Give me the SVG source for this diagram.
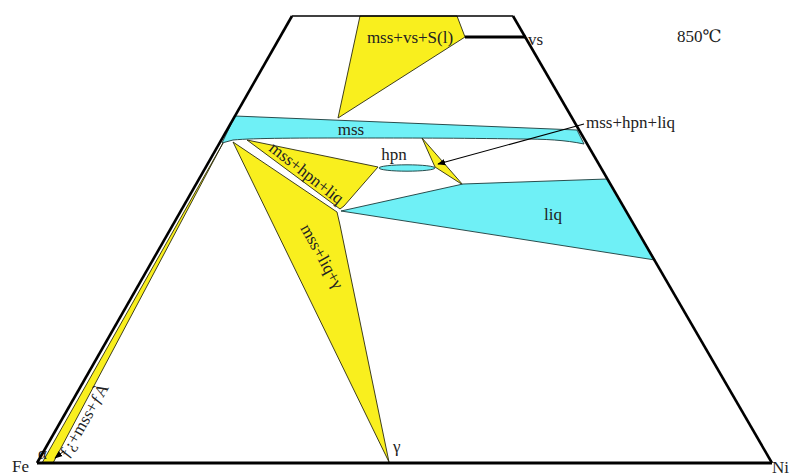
<svg xmlns="http://www.w3.org/2000/svg" width="796" height="476" viewBox="0 0 796 476">
<defs>
<style>
.y{fill:#F9EF1E;stroke:#2a2a10;stroke-width:0.9;stroke-linejoin:round}
.c{fill:#6FF0F6;stroke:#1a3a3a;stroke-width:0.9;stroke-linejoin:round}
.t{font-family:"Liberation Serif","DejaVu Serif",serif;fill:#222;font-size:17px}
.frame{fill:none;stroke:#000;stroke-linejoin:miter}
</style>
<marker id="ah" viewBox="0 0 10 10" refX="9" refY="5" markerWidth="8" markerHeight="8" orient="auto" markerUnits="userSpaceOnUse">
<path d="M0,1 L10,5 L0,9 Z" fill="#000"/>
</marker>
</defs>
<rect width="796" height="476" fill="#fff"/>

<g id="mss-vs-S">
<polygon class="y" points="360,16 457,16 465,37 338,118"/>
<text class="t" x="410" y="43" text-anchor="middle">mss+vs+S(l)</text>
</g>

<g id="mss">
<path class="c" d="M235,116 L577,130 L584,144 C565,140 545,139 520,139 C460,138 400,138 360,138 C300,138 255,138 233,140 L222,143 Z"/>
<text class="t" x="351" y="135" text-anchor="middle">mss</text>
</g>

<g id="fe-strip">
<polygon class="y" points="223,143 53,463 42,463"/>
<text class="t" x="0" y="0" font-size="12" transform="translate(68,459) rotate(-60)">ƒ¿+mss+ƒÀ</text>
<text class="t" x="38" y="459" font-size="10">α</text>
</g>

<g id="mss-liq-gamma">
<polygon class="y" points="233,142 337,212 340,225 389,462"/>
<text class="t" x="0" y="0" transform="translate(300,228) rotate(61)">mss+liq+γ</text>
</g>

<g id="mss-hpn-liq">
<polygon class="y" points="247,140 378,167 344,206 340,209"/>
<text class="t" x="0" y="0" transform="translate(268,150) rotate(38)">mss+hpn+liq</text>
</g>

<g id="hpn">
<ellipse class="c" cx="407" cy="168" rx="28" ry="3.2"/>
<text class="t" x="394" y="160" text-anchor="middle">hpn</text>
</g>

<g id="hpn-tri">
<polygon class="y" points="422,138 463,185 435,167"/>
</g>

<g id="liq">
<polygon class="c" points="341,211 463,184 607,179 655,260"/>
<text class="t" x="553" y="220" text-anchor="middle">liq</text>
</g>

<g id="frame">
<path class="frame" d="M37,463 L292,16" stroke-width="2.6"/>
<path class="frame" d="M292,16 L513,16" stroke-width="1.6"/>
<path class="frame" d="M513,16 L772,463" stroke-width="2.6"/>
<path class="frame" d="M37,463 L772,463" stroke-width="3"/>
</g>

<g id="connectors">
<line x1="465" y1="37" x2="526" y2="37" stroke="#000" stroke-width="3"/>
<line x1="584" y1="124" x2="438" y2="164" stroke="#000" stroke-width="1.1" marker-end="url(#ah)"/>
<line x1="64" y1="451" x2="55" y2="458" stroke="#000" stroke-width="1" marker-end="url(#ah)"/>
</g>

<g id="labels">
<text class="t" x="528" y="45">vs</text>
<text class="t" x="586" y="128">mss+hpn+liq</text>
<text class="t" x="677" y="42" font-size="22">850℃</text>
<text class="t" x="12" y="472" font-size="19">Fe</text>
<text class="t" x="772" y="473" font-size="18">Ni</text>
<text class="t" x="393" y="452">γ</text>
</g>
</svg>
